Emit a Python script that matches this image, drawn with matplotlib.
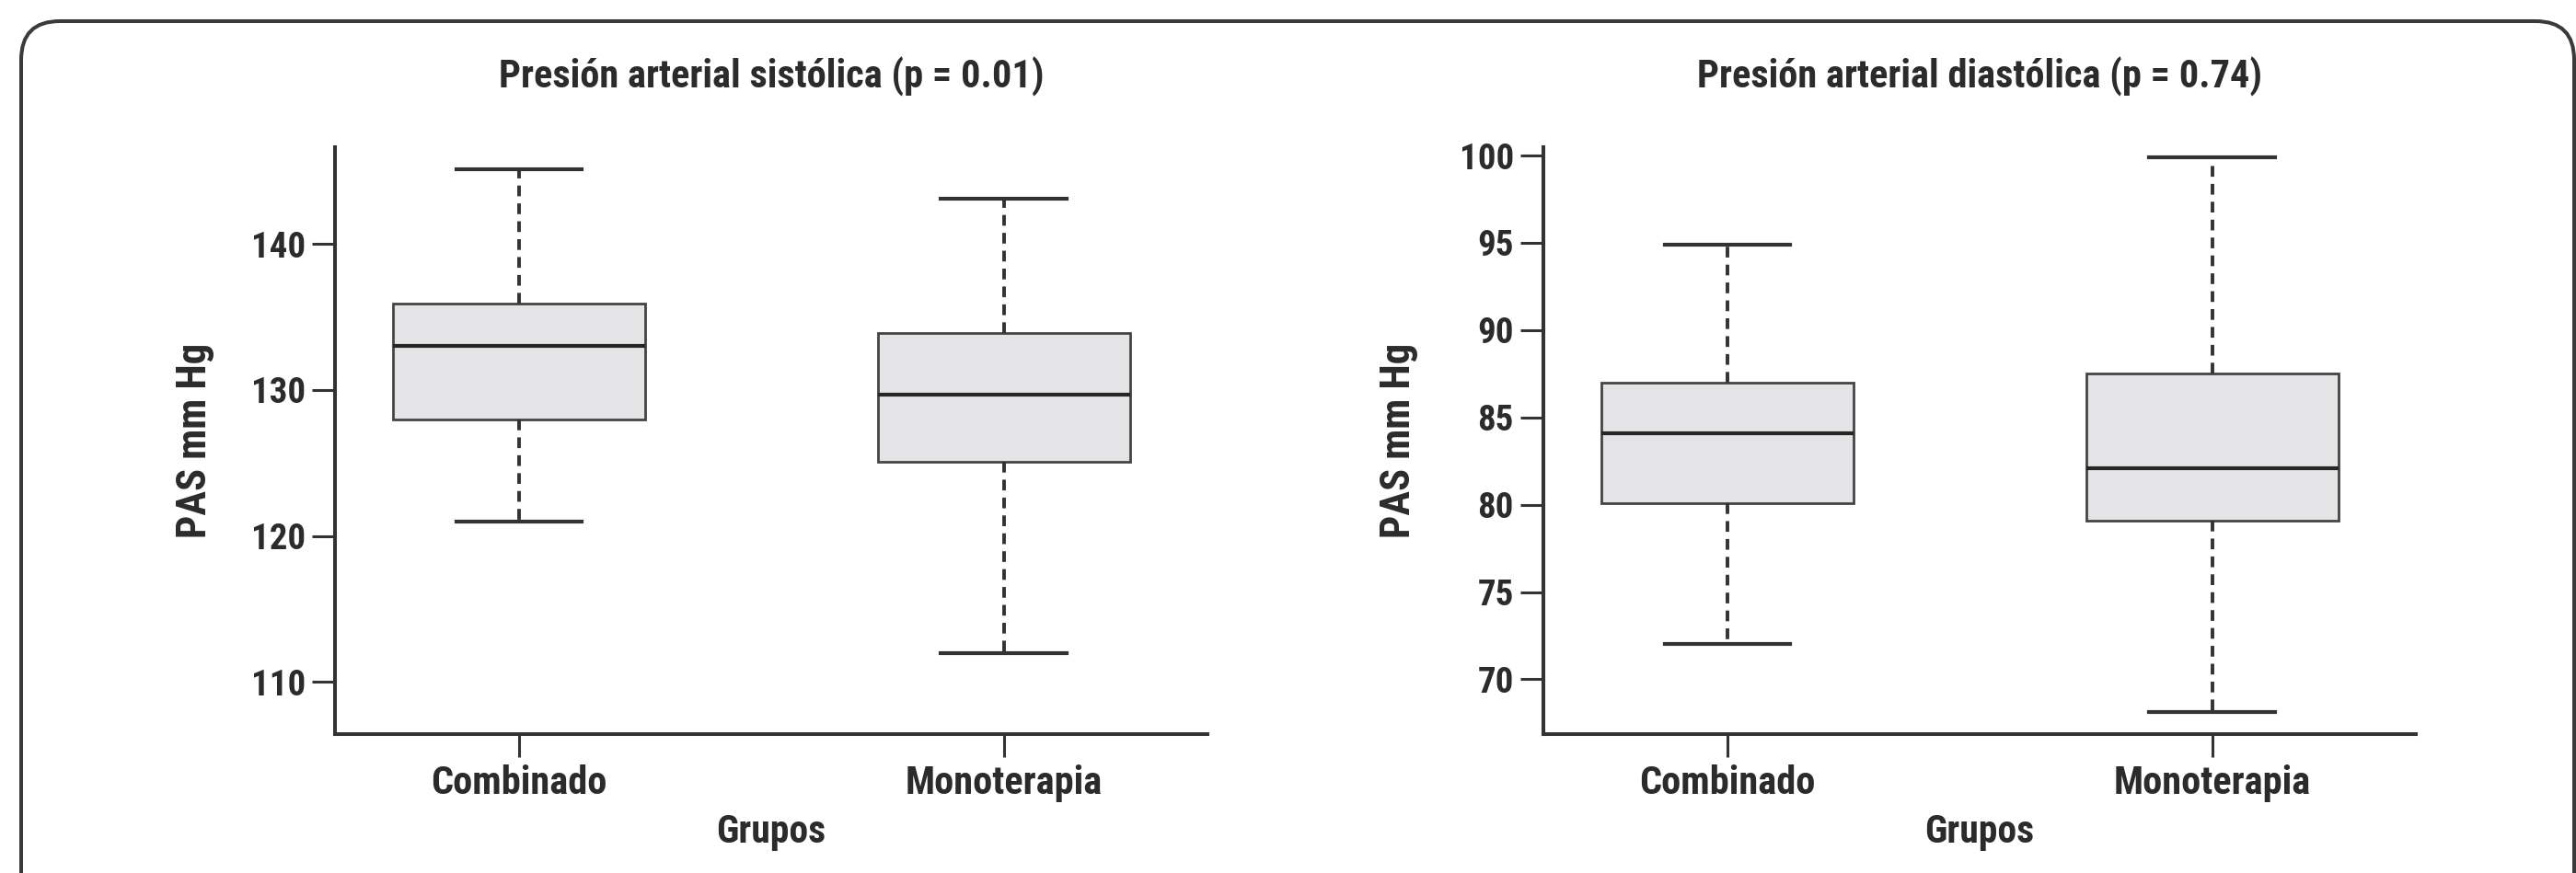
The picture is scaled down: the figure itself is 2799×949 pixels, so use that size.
import matplotlib
matplotlib.use("Agg")
import matplotlib.pyplot as plt
from matplotlib.patches import FancyBboxPatch
from matplotlib.transforms import IdentityTransform

## Box plot data (mm Hg)

groups      = [ "Combinado", "Monoterapia" ]

sys_low     = [ 121.0, 112.0 ]
sys_q1      = [ 128.0, 125.1 ]
sys_med     = [ 133.0, 129.7 ]
sys_q3      = [ 135.9, 133.9 ]
sys_high    = [ 145.1, 143.1 ]
sys_ticks   = [ 110, 120, 130, 140 ]

dia_low     = [ 72.0, 68.1 ]
dia_q1      = [ 80.1, 79.1 ]
dia_med     = [ 84.1, 82.1 ]
dia_q3      = [ 87.0, 87.5 ]
dia_high    = [ 94.9, 99.9 ]
dia_ticks   = [ 70, 75, 80, 85, 90, 95, 100 ]

titles      = [ "Presión arterial sistólica (p = 0.01)",
                "Presión arterial diastólica (p = 0.74)" ]
ylabel      = "PAS mm Hg"
xlabel      = "Grupos"

plt.rcParams['font.family'] = [ 'Roboto Condensed', 'DejaVu Sans' ]
plt.rcParams['font.weight'] = 'bold'

TXT = '#2b2b2b'
LINE = '#333333'

fig = plt.figure( figsize = ( 27.99, 9.49 ), dpi = 100 )

# rounded frame around the whole figure (pixel coords)
frame = FancyBboxPatch( ( 23, -120 ), 2774, 1046, boxstyle = "round,pad=0,rounding_size=42",
                        transform = IdentityTransform(), fill = False,
                        edgecolor = '#3a3a3a', linewidth = 2.9 )
fig.patches.append( frame )

axL = fig.add_axes( [ 0.1300, 0.1593, 0.3387, 0.6717 ] )
axR = fig.add_axes( [ 0.5991, 0.1593, 0.3387, 0.6717 ] )

def make_stats( low, q1, med, q3, high ):
    stats = []
    for i in range( len( groups ) ):
        stats.append( { 'whislo': low[i], 'q1': q1[i], 'med': med[i],
                        'q3': q3[i], 'whishi': high[i], 'fliers': [], 'label': groups[i] } )
    return stats

def draw_panel( ax, stats, ticks, ylim, title, ylab_x ):
    ax.bxp( stats, positions = [ 1, 2 ], widths = 0.52, capwidths = 0.26,
            patch_artist = True, showfliers = False,
            boxprops     = dict( facecolor = '#e4e4e6', edgecolor = '#444444', linewidth = 2.0 ),
            medianprops  = dict( color = '#262626', linewidth = 3.0 ),
            whiskerprops = dict( color = LINE, linewidth = 2.8, linestyle = ( 0, ( 3, 2 ) ) ),
            capprops     = dict( color = LINE, linewidth = 3.0 ) )

    ax.set_xlim( 0.62, 2.42 )
    ax.set_ylim( *ylim )
    ax.set_yticks( ticks )
    ax.set_xticks( [ 1, 2 ] )
    ax.set_xticklabels( groups, fontweight = 'bold' )
    for lab in ax.get_yticklabels():
        lab.set_fontweight( 'bold' )

    for s in [ 'top', 'right' ]:
        ax.spines[ s ].set_visible( False )
    for s in [ 'left', 'bottom' ]:
        ax.spines[ s ].set_linewidth( 2.9 )
        ax.spines[ s ].set_color( LINE )

    ax.tick_params( axis = 'y', length = 18, width = 2.2, color = LINE, pad = 5,
                    labelsize = 28, labelcolor = TXT )
    ax.tick_params( axis = 'x', length = 18, width = 2.2, color = LINE, pad = 6,
                    labelsize = 30.5, labelcolor = TXT )

    ax.set_title( title, fontsize = 30.5, fontweight = 'bold', color = TXT, y = 1.108, va = 'center' )
    ax.set_ylabel( ylabel, fontsize = 32, fontweight = 'bold', color = TXT, va = 'center' )
    ax.yaxis.set_label_coords( ylab_x, 0.5 )
    ax.set_xlabel( xlabel, fontsize = 30, fontweight = 'bold', color = TXT, va = 'center' )
    ax.xaxis.set_label_coords( 0.5, -0.168 )

draw_panel( axL, make_stats( sys_low, sys_q1, sys_med, sys_q3, sys_high ),
            sys_ticks, ( 106.45, 146.6 ), titles[0], -0.160 )
draw_panel( axR, make_stats( dia_low, dia_q1, dia_med, dia_q3, dia_high ),
            dia_ticks, ( 66.87, 100.46 ), titles[1], -0.166 )

fig.savefig( "out.png", dpi = 100, facecolor = 'white' )
plt.close( fig )
